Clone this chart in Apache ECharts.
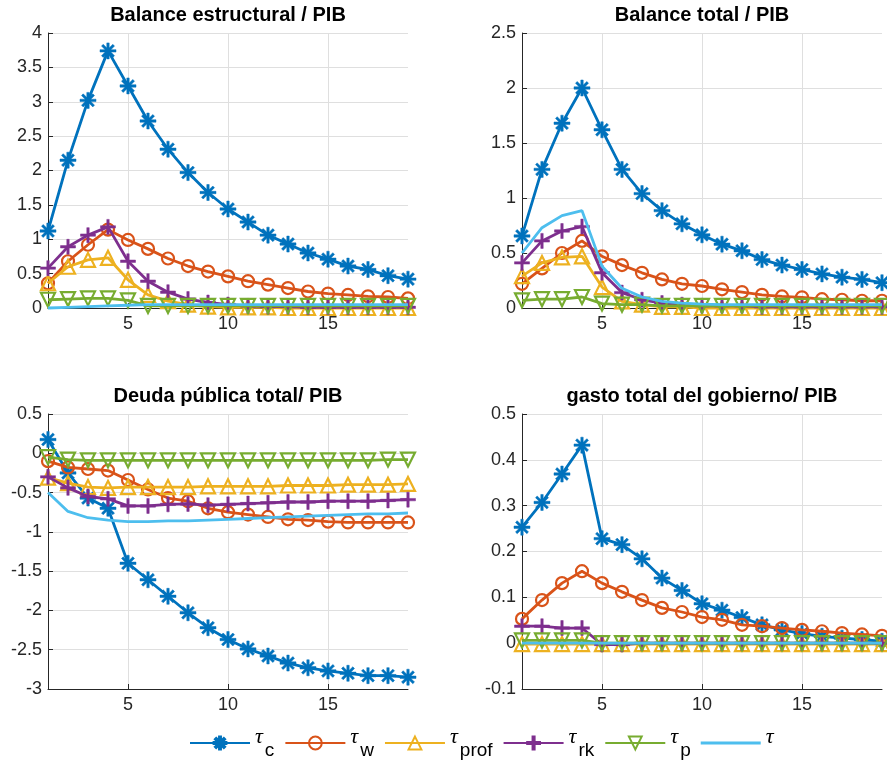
<!DOCTYPE html>
<html><head><meta charset="utf-8">
<script src="https://cdn.jsdelivr.net/npm/echarts@6/dist/echarts.min.js"></script>
<style>html,body{margin:0;padding:0;background:#fff}#c{width:887px;height:767px}</style>
</head><body><div id="c"></div>
<script>
const periods = [1,2,3,4,5,6,7,8,9,10,11,12,13,14,15,16,17,18,19];
const xTicks = [5,10,15];
const seriesNames = ['τc','τw','τprof','τrk','τp','τ'];
const titles = ['Balance estructural / PIB','Balance total / PIB','Deuda pública total/ PIB','gasto total del gobierno/ PIB'];
const yRanges = [[0,4,0.5],[0,2.5,0.5],[-3,0.5,0.5],[-0.1,0.5,0.1]];

// Panel 1: Balance estructural / PIB
const est_tc    = [1.12,2.15,3.02,3.74,3.23,2.72,2.31,1.97,1.68,1.44,1.25,1.06,0.93,0.80,0.71,0.61,0.56,0.47,0.42];
const est_tw    = [0.36,0.68,0.92,1.14,0.99,0.86,0.72,0.61,0.53,0.46,0.39,0.34,0.29,0.24,0.21,0.19,0.17,0.16,0.14];
const est_tprof = [0.36,0.60,0.70,0.73,0.41,0.19,0.10,0.05,0.02,0.01,0.01,0.01,0.00,0.00,0.00,0.00,0.00,0.00,0.00];
const est_trk   = [0.58,0.89,1.06,1.18,0.68,0.39,0.23,0.13,0.08,0.05,0.03,0.02,0.02,0.01,0.01,0.01,0.01,0.01,0.01];
const est_tp    = [0.12,0.13,0.14,0.14,0.11,0.03,0.03,0.03,0.03,0.03,0.03,0.03,0.03,0.03,0.03,0.03,0.03,0.03,0.03];
const est_t     = [0.00,0.01,0.02,0.03,0.04,0.05,0.05,0.05,0.05,0.05,0.05,0.05,0.05,0.05,0.05,0.05,0.05,0.05,0.05];

// Panel 2: Balance total / PIB
const tot_tc    = [0.655,1.26,1.68,2.00,1.62,1.26,1.04,0.885,0.765,0.665,0.58,0.52,0.44,0.39,0.35,0.31,0.28,0.26,0.23];
const tot_tw    = [0.22,0.36,0.50,0.61,0.47,0.39,0.32,0.26,0.22,0.20,0.17,0.145,0.12,0.105,0.097,0.08,0.075,0.066,0.066];
const tot_tprof = [0.29,0.41,0.46,0.47,0.19,0.06,0.03,0.01,0.01,0.00,0.00,0.00,0.00,0.00,0.00,0.00,0.00,0.00,0.00];
const tot_trk   = [0.41,0.61,0.70,0.74,0.32,0.14,0.075,0.045,0.03,0.02,0.02,0.02,0.01,0.01,0.01,0.01,0.01,0.01,0.01];
const tot_tp    = [0.07,0.08,0.08,0.10,0.04,0.03,0.03,0.02,0.02,0.02,0.02,0.02,0.02,0.02,0.02,0.02,0.02,0.02,0.02];
const tot_t     = [0.50,0.73,0.84,0.885,0.38,0.18,0.10,0.06,0.045,0.035,0.03,0.03,0.03,0.03,0.03,0.03,0.03,0.03,0.03];

// Panel 3: Deuda pública total / PIB
const deu_tc    = [0.175,-0.25,-0.57,-0.70,-1.40,-1.61,-1.82,-2.03,-2.22,-2.37,-2.49,-2.58,-2.67,-2.73,-2.77,-2.80,-2.83,-2.83,-2.85];
const deu_tw    = [-0.10,-0.18,-0.20,-0.22,-0.34,-0.46,-0.57,-0.61,-0.70,-0.75,-0.78,-0.81,-0.84,-0.85,-0.87,-0.88,-0.88,-0.88,-0.88];
const deu_tprof = [-0.31,-0.38,-0.43,-0.44,-0.43,-0.43,-0.43,-0.43,-0.42,-0.42,-0.42,-0.42,-0.41,-0.41,-0.41,-0.40,-0.40,-0.40,-0.39];
const deu_trk   = [-0.30,-0.44,-0.55,-0.58,-0.67,-0.67,-0.65,-0.645,-0.66,-0.65,-0.64,-0.63,-0.62,-0.62,-0.61,-0.61,-0.61,-0.60,-0.59];
const deu_tp    = [-0.05,-0.08,-0.09,-0.09,-0.09,-0.09,-0.09,-0.09,-0.09,-0.09,-0.09,-0.09,-0.09,-0.09,-0.09,-0.09,-0.09,-0.08,-0.08];
const deu_t     = [-0.50,-0.74,-0.82,-0.85,-0.87,-0.87,-0.86,-0.86,-0.85,-0.84,-0.83,-0.82,-0.81,-0.80,-0.79,-0.78,-0.77,-0.77,-0.76];

// Panel 4: gasto total del gobierno / PIB
const gas_tc    = [0.253,0.307,0.369,0.432,0.228,0.215,0.184,0.142,0.115,0.086,0.072,0.056,0.040,0.029,0.021,0.015,0.011,0.008,0.004];
const gas_tw    = [0.053,0.094,0.131,0.157,0.131,0.112,0.094,0.077,0.068,0.057,0.051,0.040,0.037,0.033,0.029,0.026,0.022,0.019,0.016];
const gas_tprof = [-0.002,-0.002,-0.002,-0.002,-0.002,-0.002,-0.002,-0.002,-0.002,-0.002,-0.002,-0.002,-0.002,-0.002,-0.002,-0.002,-0.002,-0.002,-0.002];
const gas_trk   = [0.037,0.037,0.033,0.033,-0.003,-0.003,0.000,0.000,0.000,0.000,0.000,0.000,0.000,0.000,0.000,0.000,0.000,0.000,0.000];
const gas_tp    = [0.006,0.006,0.006,0.006,0.000,0.000,0.000,0.000,0.000,0.000,0.000,0.000,0.000,0.000,0.000,0.000,0.000,0.000,0.000];
const gas_t     = [0.000,0.000,0.000,0.000,0.000,0.000,0.000,0.000,0.000,0.000,0.000,0.000,0.000,0.000,0.000,0.000,0.000,0.000,0.000];

const panels = [
  [est_tc,est_tw,est_tprof,est_trk,est_tp,est_t],
  [tot_tc,tot_tw,tot_tprof,tot_trk,tot_tp,tot_t],
  [deu_tc,deu_tw,deu_tprof,deu_trk,deu_tp,deu_t],
  [gas_tc,gas_tw,gas_tprof,gas_trk,gas_tp,gas_t]
];

const colors = ['#0072BD','#D95319','#EDB120','#7E2F8E','#77AC30','#4DBEEE'];
const ASTERISK = 'path://M-1.5,-10L1.5,-10L1.5,10L-1.5,10ZM-10,-1.5L10,-1.5L10,1.5L-10,1.5ZM-6.01,-8.13L8.13,6.01L6.01,8.13L-8.13,-6.01ZM-8.13,6.01L6.01,-8.13L8.13,-6.01L-6.01,8.13Z';
const PLUS = 'path://M-1.6,-10L1.6,-10L1.6,10L-1.6,10ZM-10,-1.6L10,-1.6L10,1.6L-10,1.6Z';
const LINE_ICON = 'path://M0,0L60,0L60,3L0,3Z';
const symbolDefs = [
  {symbol: ASTERISK, size: 16, fill: true},
  {symbol: 'circle', size: 12, fill: false},
  {symbol: 'triangle', size: 14, fill: false},
  {symbol: PLUS, size: 15, fill: true},
  {symbol: 'triangle', size: 14, fill: false, rotate: 180},
  {symbol: 'none', size: 0, fill: true}
];

const gridPos = [
  {left: 48, top: 33}, {left: 522, top: 33},
  {left: 48, top: 414}, {left: 522, top: 414}
];
const W = 360, H = 275;
const axisColor = '#262626';
const font = 'Liberation Sans, Arial, Helvetica, sans-serif';

const grids = [], xAxes = [], yAxes = [], series = [], titleOpts = [];
gridPos.forEach((g, i) => {
  grids.push({left: g.left, top: g.top, width: W, height: H, containLabel: false});
  titleOpts.push({
    text: titles[i], left: g.left + W / 2, top: g.top - 28, textAlign: 'center', padding: 0,
    textStyle: {fontFamily: font, fontWeight: 'bold', fontSize: 20, color: '#000'}
  });
  xAxes.push({
    type: 'value', gridIndex: i, min: 1, max: 19,
    axisLine: {show: true, onZero: false, lineStyle: {color: axisColor, width: 1}},
    axisTick: {show: true, inside: true, length: 5, customValues: xTicks, lineStyle: {color: axisColor}},
    axisLabel: {customValues: xTicks, color: axisColor, fontSize: 18, fontFamily: font, margin: 7},
    splitLine: {show: true, lineStyle: {color: '#dfdfdf', width: 1}}
  });
  const r = yRanges[i];
  yAxes.push({
    type: 'value', gridIndex: i, min: r[0], max: r[1], interval: r[2],
    axisLine: {show: true, onZero: false, lineStyle: {color: axisColor, width: 1}},
    axisTick: {show: true, inside: true, length: 5, lineStyle: {color: axisColor}},
    axisLabel: {color: axisColor, fontSize: 18, fontFamily: font, margin: 6,
      formatter: v => String(Math.round(v * 10) / 10)},
    splitLine: {show: true, lineStyle: {color: '#dfdfdf', width: 1}}
  });
  panels[i].forEach((vals, k) => {
    const sd = symbolDefs[k];
    series.push({
      name: seriesNames[k], type: 'line', xAxisIndex: i, yAxisIndex: i,
      data: periods.map((p, j) => [p, vals[j]]),
      symbol: sd.symbol, symbolSize: sd.size, symbolRotate: sd.rotate || 0,
      showSymbol: sd.symbol !== 'none', symbolKeepAspect: true,
      lineStyle: {color: colors[k], width: 2.8},
      itemStyle: sd.fill
        ? {color: colors[k], borderColor: colors[k], borderWidth: 0.5}
        : {color: 'rgba(255,255,255,0)', borderColor: colors[k], borderWidth: 2.2},
      emphasis: {disabled: true},
      animation: false, z: 2 + k, clip: false
    });
  });
});

const subs = {'τc': 'c', 'τw': 'w', 'τprof': 'prof', 'τrk': 'rk', 'τp': 'p', 'τ': ''};
const legendData = seriesNames.map((n, k) => k === 5
  ? {name: n, icon: LINE_ICON, itemStyle: {color: colors[5], borderWidth: 0}}
  : {name: n});

const chart = echarts.init(document.getElementById('c'), null, {renderer: 'canvas'});
chart.setOption({
  backgroundColor: '#fff',
  animation: false,
  title: titleOpts,
  grid: grids, xAxis: xAxes, yAxis: yAxes, series: series,
  legend: {
    data: legendData, left: 189, top: 726, padding: 0,
    itemWidth: 60, itemHeight: 16, itemGap: 10,
    selectedMode: false,
    formatter: n => subs[n] ? '{t|τ}{s|' + subs[n] + '}' : '{t|τ}',
    textStyle: {
      fontFamily: font, color: '#000',
      rich: {
        t: {fontSize: 22, fontFamily: 'Liberation Serif, serif', fontStyle: 'italic', padding: [0, 1, 12, 0]},
        s: {fontSize: 19, fontFamily: font, padding: [16, 0, 0, 1]}
      }
    }
  }
});
</script></body></html>
